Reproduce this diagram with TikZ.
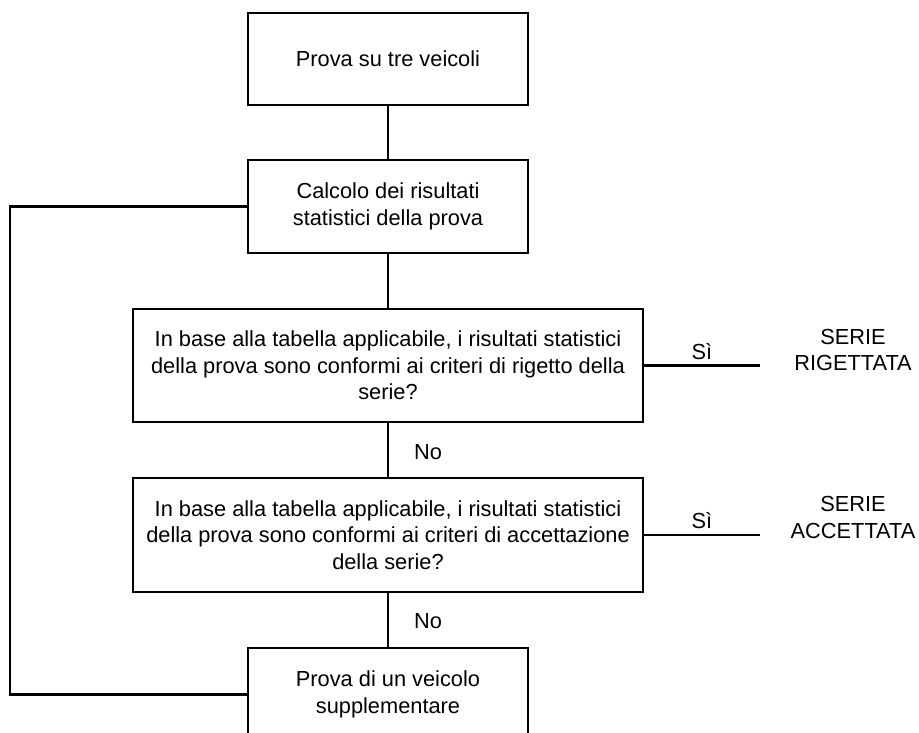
\documentclass[tikz,border=0pt]{standalone}
\usepackage{fontspec}
\setmainfont{Liberation Sans}
\begin{document}
\begin{tikzpicture}[x=1pt,y=-1pt,
  every node/.style={font=\fontsize{21.8}{26.5}\selectfont, align=center, inner sep=0pt},
  box/.style={draw, line width=2.7pt, minimum width=#1},
  conn/.style={line width=2.7pt}]
\useasboundingbox (0,0) rectangle (919,733);
\clip (0,0) rectangle (919,733);
\node[box=280, minimum height=92] (b1) at (388,59) {Prova su tre veicoli};
\node[box=280, minimum height=93] (b2) at (388,206.5) {Calcolo dei risultati\\statistici della prova};
\node[box=510, minimum height=113] (b3) at (388,365.5) {In base alla tabella applicabile, i risultati statistici\\della prova sono conformi ai criteri di rigetto della\\serie?};
\node[box=510, minimum height=114] (b4) at (388,535) {In base alla tabella applicabile, i risultati statistici\\della prova sono conformi ai criteri di accettazione\\della serie?};
\node[box=280, minimum height=93] (b5) at (388,694.5) {Prova di un veicolo\\supplementare};
\coordinate (r1) at (760,365.5);
\coordinate (r2) at (760,535);
\coordinate (l1) at (10,206.5);
\coordinate (l2) at (10,694.5);
\draw[conn] (b1) -- (b2);
\draw[conn] (b2) -- (b3);
\draw[conn] (b3) -- (b4);
\draw[conn] (b4) -- (b5);
\draw[conn] (b3.east) -- (r1);
\draw[conn] (b4.east) -- (r2);
\draw[conn] (b2.west) -- (l1) -- (l2) -- (b5.west);
\node (no1) at (428,452) {No};
\node (no2) at (428,621) {No};
\node (si1) at (702,352) {Sì};
\node (si2) at (702,521) {Sì};
\node (rej) at (853,350) {SERIE\\RIGETTATA};
\node (acc) at (853,517.5) {SERIE\\ACCETTATA};
\end{tikzpicture}
\end{document}
